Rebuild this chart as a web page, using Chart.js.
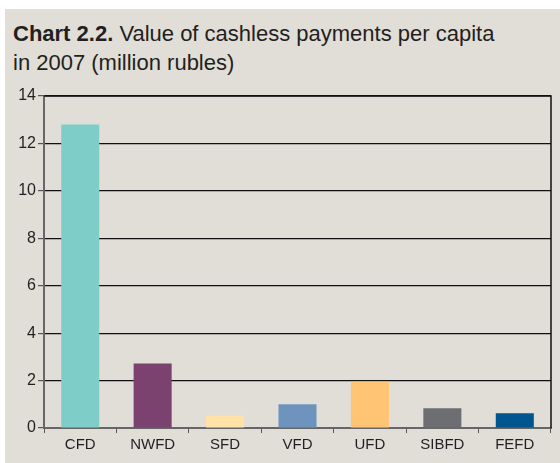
<!DOCTYPE html>
<html>
<head>
<meta charset="utf-8">
<script src="https://cdn.jsdelivr.net/npm/chart.js@4"></script>
<style>
  html, body { margin: 0; padding: 0; background: #fff; }
  #panel {
    position: absolute; left: 5px; top: 9px; width: 555px; height: 454px;
    background: #e1ddd7;
  }
  #title {
    position: absolute; left: 8px; top: 10px;
    font-family: "Liberation Sans", Arial, sans-serif;
    font-size: 22px; line-height: 29px; color: #231f20;
  }
  #title b { font-weight: bold; }
  #wrap { position: absolute; left: 0; top: 0; width: 560px; height: 463px; }
</style>
</head>
<body>
<div id="panel">
  <div id="title"><b>Chart 2.2.</b> Value of cashless payments per capita<br>in 2007 (million rubles)</div>
</div>
<div id="wrap"><canvas id="chart"></canvas></div>
<script>
const districts = ['CFD', 'NWFD', 'SFD', 'VFD', 'UFD', 'SIBFD', 'FEFD'];
const paymentsPerCapita = [12.8, 2.72, 0.53, 1.0, 1.95, 0.83, 0.62];
const barColors = ['#7ecdc8', '#7b416f', '#ffe2a8', '#6e94be', '#ffc575', '#6d6e71', '#00558f'];
const yTicks = [0, 2, 4, 6, 8, 10, 12, 14];

const tickFont = 'Liberation Sans';

// black top/right frame like the original
const frame = {
    id: 'frame',
    afterDraw(chart) {
        const a = chart.chartArea;
        const ctx = chart.ctx;
        ctx.save();
        ctx.strokeStyle = '#111';
        ctx.lineWidth = 1.5;
        ctx.beginPath();
        ctx.moveTo(a.left, a.top);
        ctx.lineTo(a.right, a.top);
        ctx.lineTo(a.right, a.bottom);
        ctx.stroke();
        ctx.restore();
    }
};

new Chart(document.querySelector('#chart'), {
    type: 'bar',
    data: {
        labels: districts,
        datasets: [{
            data: paymentsPerCapita,
            backgroundColor: barColors,
            barPercentage: 0.525,
            categoryPercentage: 1
        }]
    },
    options: {
        responsive: true,
        maintainAspectRatio: false,
        animation: false,
        layout: { padding: { top: 96, right: 9, left: 0, bottom: 0 } },
        plugins: { legend: { display: false }, tooltip: { enabled: false } },
        scales: {
            x: {
                afterFit(scale) { scale.height = 35; },
                grid: { drawOnChartArea: false, drawTicks: true, tickLength: 5, tickColor: '#555', offset: true },
                border: { color: '#666', width: 2 },
                ticks: { color: '#231f20', font: { family: tickFont, size: 15 }, padding: 3 }
            },
            y: {
                min: 0, max: 14,
                afterFit(scale) { scale.width = 44; },
                afterBuildTicks(scale) { scale.ticks = yTicks.map(v => ({ value: v })); },
                grid: { color: '#111', lineWidth: 1.2, tickLength: 6, tickColor: '#555' },
                border: { color: '#666', width: 2 },
                ticks: { color: '#231f20', font: { family: tickFont, size: 16 }, padding: 2 }
            }
        }
    },
    plugins: [frame]
});
</script>
</body>
</html>
